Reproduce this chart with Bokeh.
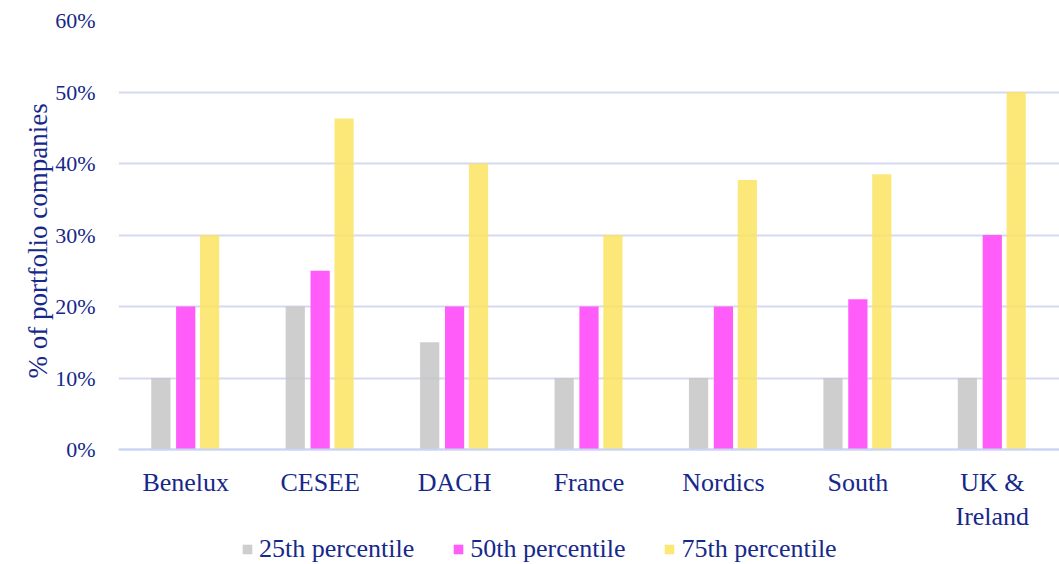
from bokeh.plotting import figure
from bokeh.models import ColumnDataSource, Legend, LegendItem, NumeralTickFormatter, FixedTicker, Title
from bokeh.transform import dodge
from bokeh.embed import file_html
from bokeh.resources import INLINE

regions = ["Benelux", "CESEE", "DACH", "France", "Nordics", "South", "UK &\nIreland"]
p25 = [0.10, 0.20, 0.15, 0.10, 0.10, 0.10, 0.10]
p50 = [0.20, 0.25, 0.20, 0.20, 0.20, 0.21, 0.30]
p75 = [0.30, 0.463, 0.40, 0.30, 0.377, 0.385, 0.50]
series_names = ["25th percentile", "50th percentile", "75th percentile"]
y_ticks = [0, 0.1, 0.2, 0.3, 0.4, 0.5, 0.6]

src = ColumnDataSource(dict(cat=regions, p25=p25, p50=p50, p75=p75))

NAVY = "#16288a"
FONT = "Liberation Serif"

# frame runs to the bottom of the page; the value axis stops at 0 (pixel 449)
p = figure(x_range=regions, y_range=(-0.1608, 0.6), frame_width=941, frame_height=544,
           output_backend="svg", toolbar_location=None,
           min_border_left=118, min_border_right=0, min_border_top=20,
           min_border_bottom=0)
p.outline_line_color = None

w = 0.143
r1 = p.vbar(x=dodge("cat", -0.185, range=p.x_range), top="p25", width=w, source=src,
            fill_color="#c6c6c6", fill_alpha=0.85, line_color=None)
r2 = p.vbar(x=dodge("cat", 0.0, range=p.x_range), top="p50", width=w, source=src,
            fill_color="#ff5cfa", line_color=None)
r3 = p.vbar(x=dodge("cat", 0.178, range=p.x_range), top="p75", width=w, source=src,
            fill_color="#fbe362", fill_alpha=0.85, line_color=None)

p.xgrid.grid_line_color = None
p.ygrid.grid_line_color = "#d5d9ef"
p.ygrid.grid_line_width = 2
p.ygrid.level = "underlay"

p.yaxis.ticker = FixedTicker(ticks=y_ticks)
p.yaxis.formatter = NumeralTickFormatter(format="0%")
p.yaxis.axis_line_color = None
p.yaxis.major_tick_line_color = None
p.yaxis.minor_tick_line_color = None
p.yaxis.major_label_text_font = FONT
p.yaxis.major_label_text_font_size = "22px"
p.yaxis.major_label_text_color = NAVY
p.yaxis.major_label_standoff = 17

ytitle = Title(text="% of portfolio companies", align="left", offset=186,
               text_font=FONT, text_font_size="27px", text_font_style="normal",
               text_color=NAVY, standoff=0)
p.add_layout(ytitle, "left")

p.xaxis.fixed_location = 0
p.xaxis.axis_line_color = "#c9d5f5"
p.xaxis.axis_line_width = 2
p.xaxis.major_tick_line_color = None
p.xaxis.minor_tick_line_color = None
p.xaxis.major_label_text_font = FONT
p.xaxis.major_label_text_font_size = "26px"
p.xaxis.major_label_text_color = NAVY
p.xaxis.major_label_standoff = 12

legend = Legend(items=[LegendItem(label=series_names[0], renderers=[r1]),
                       LegendItem(label=series_names[1], renderers=[r2]),
                       LegendItem(label=series_names[2], renderers=[r3])],
                orientation="horizontal", location=(123, 0),
                label_text_font=FONT, label_text_font_size="26px",
                label_text_color=NAVY, glyph_width=12, glyph_height=12,
                label_standoff=6, spacing=38, padding=0, margin=0,
                border_line_color=None, background_fill_alpha=0)
p.add_layout(legend, "center")

open("out.html", "w").write(file_html(p, INLINE))
